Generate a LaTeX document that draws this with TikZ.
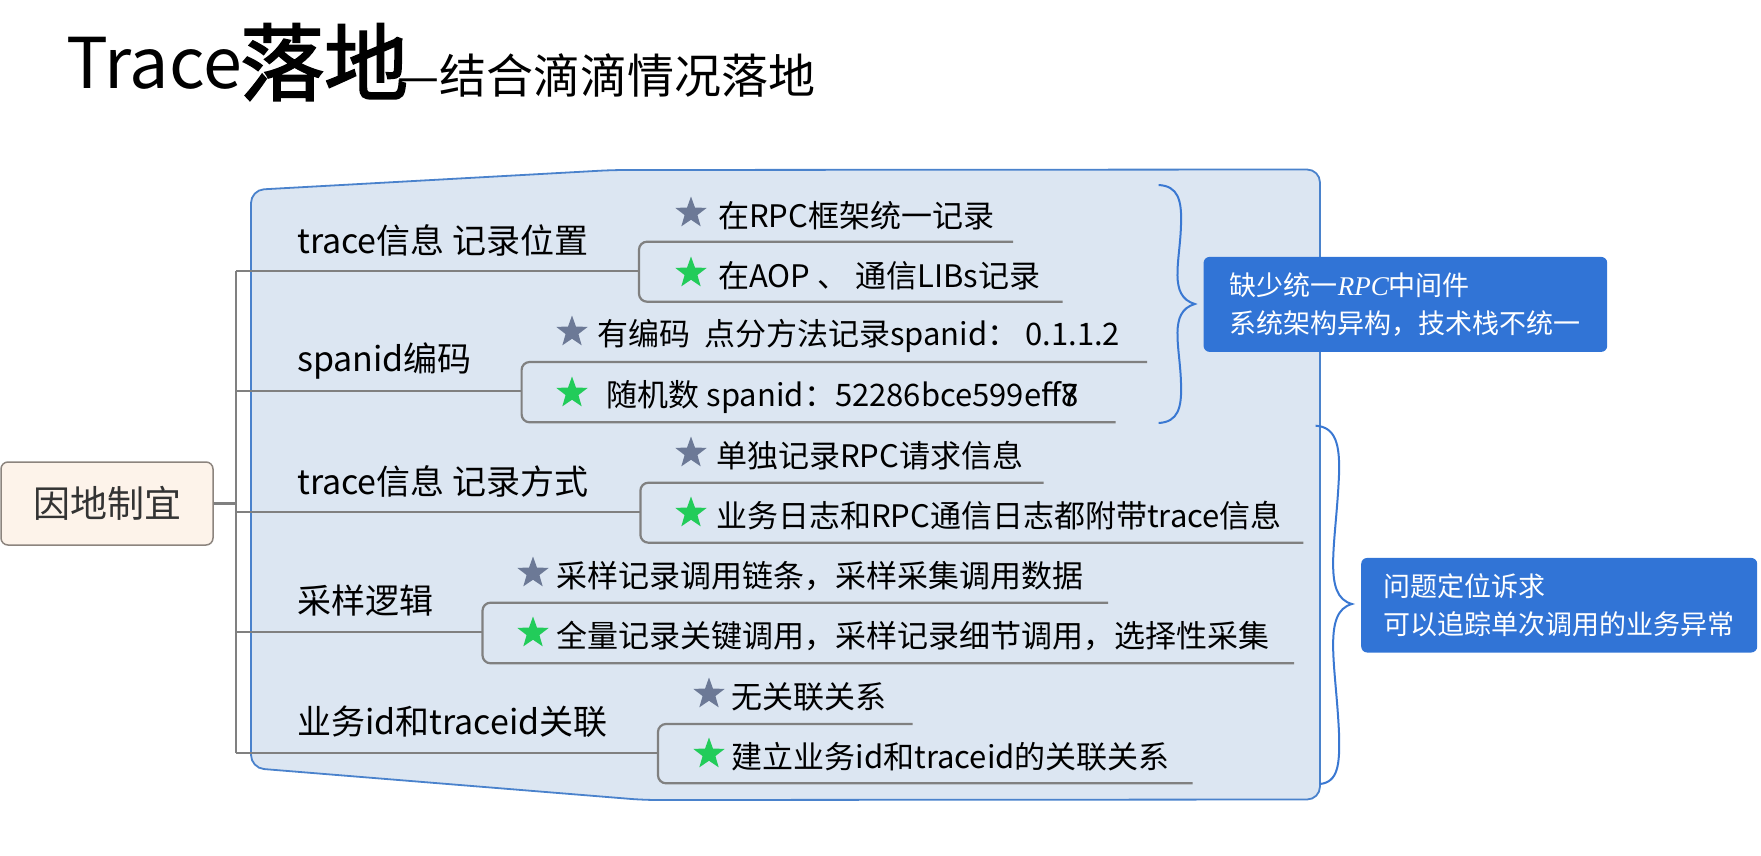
\documentclass[tikz,border=0pt]{standalone}
\usepackage{fontspec}
\setmainfont{Noto Sans CJK SC}
\newfontfamily\latinserif{Liberation Serif}
\newfontfamily\heavycjk[FakeBold=2.2]{Noto Sans CJK SC}
\usetikzlibrary{shapes.geometric}

\definecolor{panelfill}{RGB}{220,230,242}
\definecolor{panelline}{RGB}{74,130,204}
\definecolor{wiregray}{RGB}{128,128,128}
\definecolor{stargray}{RGB}{108,121,150}
\definecolor{stargreen}{RGB}{34,204,90}
\definecolor{notefill}{RGB}{49,116,214}
\definecolor{bracecol}{RGB}{58,120,210}
\definecolor{rootfill}{RGB}{253,243,234}
\definecolor{rootline}{RGB}{140,132,126}
\definecolor{roottext}{RGB}{51,51,51}

\begin{document}
\begin{tikzpicture}[x=1pt,y=-1pt,
  branch/.style={anchor=base west, inner sep=0pt, font=\fontsize{34}{40}\selectfont},
  leaf/.style={anchor=base west, inner sep=0pt, font=\fontsize{31}{37}\selectfont},
  pin/.style={star, star points=5, star point ratio=2.45, inner sep=0pt, minimum size=33pt, draw=none},
  greystar/.style={pin, fill=stargray},
  greenstar/.style={pin, fill=stargreen},
  wire/.style={draw=wiregray, line width=2.2pt},
  bracket/.style={wire, rounded corners=8pt},
  brace/.style={draw=bracecol, line width=2pt},
  note/.style={fill=notefill, rounded corners=6pt, anchor=north west, inner sep=0pt,
    align=left, text=white, font=\fontsize{27}{37.5}\selectfont},
]
\useasboundingbox (0,0) rectangle (1761,856);

% title
\node[anchor=base west, inner sep=0pt, font=\fontsize{70}{80}\selectfont] (t1) at (66,89) {Trace};
\node[anchor=base west, inner sep=0pt, font=\fontsize{84}{95}\heavycjk] (t2) at (240,94) {落地};
\node[anchor=base west, inner sep=0pt, font=\fontsize{47}{55}\selectfont] (t3) at (397,93.5) {—结合滴滴情况落地};

% background panel
\draw[fill=panelfill, draw=panelline, line width=1.8pt, rounded corners=13pt]
  (251,190) -- (613,170) -- (1320,169.5) -- (1320,799.5) -- (644,800) -- (251,768) -- cycle;

% root topic
\node[draw=rootline, fill=rootfill, line width=1.5pt, rounded corners=7pt,
  minimum width=212pt, minimum height=83pt, inner sep=0pt,
  font=\fontsize{37}{44}\selectfont, text=roottext] (root) at (107,503.5) {因地制宜};

% trunk and junction points
\coordinate (tr1) at (236,271);
\coordinate (tr2) at (236,390.7);
\coordinate (tr3) at (236,511.7);
\coordinate (tr4) at (236,632.3);
\coordinate (tr5) at (236,752.7);
\coordinate (j1) at (639,271);
\coordinate (j2) at (521.6,390.7);
\coordinate (j3) at (640.4,511.7);
\coordinate (j4) at (482.5,632.3);
\coordinate (j5) at (658,752.7);
% ends of the leaf underlines
\coordinate (e1a) at (1013,241.7);   \coordinate (e1b) at (1062.6,301.7);
\coordinate (e2a) at (1147,362);     \coordinate (e2b) at (1115.6,422.3);
\coordinate (e3a) at (1043.7,482.7); \coordinate (e3b) at (1303.3,542.7);
\coordinate (e4a) at (1108,602.7);   \coordinate (e4b) at (1294,663.3);
\coordinate (e5a) at (912.6,724);    \coordinate (e5b) at (1192.5,783.3);

\draw[wire] (root.east) -- (root.east -| tr1);
\draw[wire] (tr1) -- (tr5);
\foreach \i in {1,...,5} {
  \draw[wire] (tr\i) -- (j\i);
  \draw[bracket] (e\i a) -- (e\i a -| j\i) -- (e\i b -| j\i) -- (e\i b);
}

% main branches
\node[branch] (b1) at (297,253) {trace信息 记录位置};
\node[branch] (b2) at (297,371) {spanid编码};
\node[branch] (b3) at (297,494) {trace信息 记录方式};
\node[branch] (b4) at (297,613) {采样逻辑};
\node[branch] (b5) at (297,734) {业务id和traceid关联};

% leaves
\node[greystar]  (s1a) at (691,213) {};
\node[leaf] (l1a) at (718,227) {在RPC框架统一记录};
\node[greenstar] (s1b) at (691,273) {};
\node[leaf] (l1b) at (718,287) {在AOP 、 通信LIBs记录};

\node[greystar]  (s2a) at (572,332) {};
\node[leaf] (l2a) at (597,345) {有编码~~点分方法记录spanid：~0.1.1.2};
\node[greenstar] (s2b) at (572,393) {};
\node[leaf] (l2b) at (606.5,406) {随机数 spanid：52286bce599eff\rlap{7}8};

\node[greystar]  (s3a) at (691,453) {};
\node[leaf] (l3a) at (716,467) {单独记录RPC请求信息};
\node[greenstar] (s3b) at (691,513) {};
\node[leaf] (l3b) at (716,527) {业务日志和RPC通信日志都附带trace信息};

\node[greystar]  (s4a) at (533,573) {};
\node[leaf] (l4a) at (556,587) {采样记录调用链条，采样采集调用数据};
\node[greenstar] (s4b) at (533,633) {};
\node[leaf] (l4b) at (556,647) {全量记录关键调用，采样记录细节调用，选择性采集};

\node[greystar]  (s5a) at (709,694) {};
\node[leaf] (l5a) at (731.6,708) {无关联关系};
\node[greenstar] (s5b) at (709,754) {};
\node[leaf] (l5b) at (731.6,768) {建立业务id和traceid的关联关系};

% braces
\draw[brace] (1158.6,185) .. controls (1178,186) and (1182,200) .. (1181,225)
  .. controls (1180,262) and (1168,296) .. (1194.8,304)
  .. controls (1168,312) and (1180,346) .. (1181,383)
  .. controls (1182,408) and (1178,422) .. (1158.6,423);
\draw[brace] (1315.6,425.7) .. controls (1336,427) and (1340,445) .. (1339,475)
  .. controls (1336,545) and (1322,596) .. (1352,604)
  .. controls (1322,612) and (1336,665) .. (1339,733)
  .. controls (1340,765) and (1338,782) .. (1320,784);

% notes
\node[note, minimum width=403.6pt, minimum height=95pt] (n1) at (1203.4,256.7)
  {缺少统一{\latinserif\itshape RPC}中间件\\系统架构异构，技术栈不统一};
\node[note, minimum width=396pt, minimum height=94.6pt] (n2) at (1361,557.7)
  {问题定位诉求\\可以追踪单次调用的业务异常};
\end{tikzpicture}
\end{document}
